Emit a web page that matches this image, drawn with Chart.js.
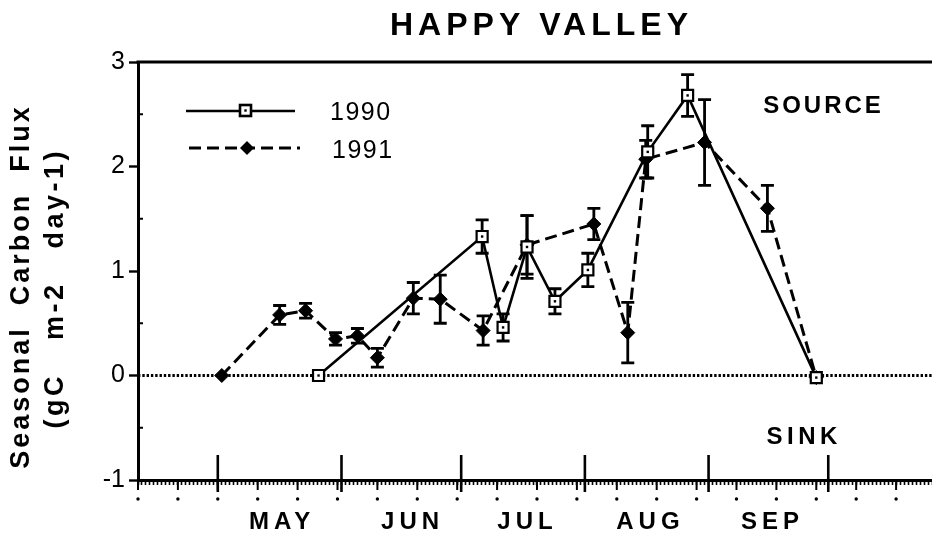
<!DOCTYPE html>
<html>
<head>
<meta charset="utf-8">
<script src="https://cdn.jsdelivr.net/npm/chart.js@4/dist/chart.umd.min.js"></script>
<style>
  html, body { margin: 0; padding: 0; background: #fff; }
  #wrap { width: 932px; height: 535px; position: relative; }
</style>
</head>
<body>
<div id="wrap"><canvas id="c" width="932" height="535"></canvas></div>
<script>
// ---- data (day of year, 1 May = day 121) ----
const day1990  = [146.25, 187.25, 192.5, 198.5, 205.5, 213.75, 228.75, 238.75, 271];
const flux1990 = [0, 1.33, 0.46, 1.23, 0.71, 1.01, 2.14, 2.68, -0.02];
const err1990  = [0, 0.16, 0.13, 0.30, 0.12, 0.16, 0.25, 0.20, 0];

const day1991  = [122, 136.5, 143, 150.5, 156, 161, 170, 176.75, 187.5, 198.5, 215.25, 223.75, 228.25, 243, 258.75, 271];
const flux1991 = [0, 0.58, 0.62, 0.35, 0.38, 0.17, 0.74, 0.73, 0.43, 1.25, 1.45, 0.41, 2.07, 2.23, 1.60, -0.02];
const err1991  = [0, 0.09, 0.07, 0.06, 0.07, 0.09, 0.15, 0.23, 0.14, 0.28, 0.15, 0.29, 0.18, 0.41, 0.22, 0];

const monthNames    = ['MAY', 'JUN', 'JUL', 'AUG', 'SEP'];
const monthLabelDay = [136.5, 169.2, 198, 228.8, 259.4];
const monthStartDay = [121, 152, 182, 213, 244, 274];
const yTicks        = [-1, 0, 1, 2, 3];
const seriesNames   = ['1990', '1991'];

const FONT = '"Liberation Sans", Arial, Helvetica, sans-serif';

function spaced(ctx, text, x, y, spacing, align) {
  ctx.save();
  ctx.textAlign = 'left';
  let sp = 0;
  if ('letterSpacing' in ctx) { ctx.letterSpacing = spacing + 'px'; sp = spacing; }
  const w = ctx.measureText(text).width - sp;
  let sx = x;
  if (align === 'center') sx = x - w / 2;
  else if (align === 'right') sx = x - w;
  ctx.fillText(text, sx, y);
  ctx.restore();
}

function pts(xs, ys) { return xs.map((x, i) => ({ x: x, y: ys[i] })); }

const decor = {
  id: 'decor',
  beforeDatasetsDraw(chart) {
    const ctx = chart.ctx, xs = chart.scales.x, ys = chart.scales.y, a = chart.chartArea;
    ctx.save();
    ctx.strokeStyle = '#000'; ctx.fillStyle = '#000';
    // zero line (dotted)
    ctx.lineWidth = 3;
    ctx.setLineDash([2.4, 1.9]);
    const y0 = ys.getPixelForValue(0);
    ctx.beginPath(); ctx.moveTo(a.left, y0); ctx.lineTo(a.right, y0); ctx.stroke();
    ctx.setLineDash([]);
    // top border
    ctx.lineWidth = 3;
    ctx.beginPath(); ctx.moveTo(a.left - 1.5, a.top); ctx.lineTo(a.right, a.top); ctx.stroke();
    // y minor ticks (inward) at half units
    ctx.lineWidth = 2;
    for (let v = -0.5; v < 3; v += 1) {
      const py = ys.getPixelForValue(v);
      ctx.beginPath(); ctx.moveTo(a.left, py); ctx.lineTo(a.left + 5, py); ctx.stroke();
    }
    // x ticks: 10-day longer ticks + dots
    for (let d = 101; d <= 300; d += 10) {
      const px = xs.getPixelForValue(d);
      ctx.lineWidth = 2;
      ctx.beginPath(); ctx.moveTo(px, a.bottom); ctx.lineTo(px, a.bottom + 10); ctx.stroke();
      ctx.beginPath(); ctx.arc(px, a.bottom + 19, 1.7, 0, Math.PI * 2); ctx.fill();
    }
    // month boundary ticks
    ctx.lineWidth = 2.6;
    monthStartDay.forEach(d => {
      const px = xs.getPixelForValue(d);
      ctx.beginPath(); ctx.moveTo(px, a.bottom - 25); ctx.lineTo(px, a.bottom + 12); ctx.stroke();
    });
    // error bars
    const bars = [[day1990, flux1990, err1990], [day1991, flux1991, err1991]];
    ctx.lineWidth = 2.8;
    bars.forEach(([dx, fy, er]) => {
      dx.forEach((d, i) => {
        if (!er[i]) return;
        const px = xs.getPixelForValue(d);
        const t = ys.getPixelForValue(fy[i] + er[i]);
        const b = ys.getPixelForValue(fy[i] - er[i]);
        ctx.beginPath();
        ctx.moveTo(px, t); ctx.lineTo(px, b);
        ctx.moveTo(px - 6.5, t); ctx.lineTo(px + 6.5, t);
        ctx.moveTo(px - 6.5, b); ctx.lineTo(px + 6.5, b);
        ctx.stroke();
      });
    });
    ctx.restore();
  },
  afterDatasetsDraw(chart) {
    const ctx = chart.ctx, xs = chart.scales.x, ys = chart.scales.y, a = chart.chartArea;
    ctx.save();
    ctx.fillStyle = '#000'; ctx.strokeStyle = '#000';
    // center dots of open squares
    day1990.forEach((d, i) => {
      const px = xs.getPixelForValue(d), py = ys.getPixelForValue(flux1990[i]);
      ctx.fillRect(px - 1.2, py - 1.2, 2.4, 2.4);
    });
    // legend
    ctx.lineWidth = 2.6;
    ctx.beginPath(); ctx.moveTo(186, 111); ctx.lineTo(295, 111); ctx.stroke();
    ctx.fillStyle = '#fff';
    ctx.fillRect(240, 105, 11, 11);
    ctx.strokeRect(240, 105, 11, 11);
    ctx.fillStyle = '#000';
    ctx.fillRect(244.3, 109.3, 2.4, 2.4);
    ctx.lineWidth = 3;
    ctx.setLineDash([12, 6]);
    ctx.beginPath(); ctx.moveTo(189, 148); ctx.lineTo(300, 148); ctx.stroke();
    ctx.setLineDash([]);
    ctx.beginPath();
    ctx.moveTo(247, 141); ctx.lineTo(254, 148); ctx.lineTo(247, 155); ctx.lineTo(240, 148); ctx.closePath(); ctx.fill();
    ctx.textBaseline = 'middle';
    ctx.font = '25px ' + FONT;
    spaced(ctx, seriesNames[0], 330, 113, 1.5, 'left');
    spaced(ctx, seriesNames[1], 332, 151, 1.5, 'left');
    // SOURCE / SINK
    ctx.font = 'bold 24px ' + FONT;
    spaced(ctx, 'SOURCE', 822, 106, 3, 'center');
    spaced(ctx, 'SINK', 802, 437, 4.5, 'center');
    // month labels
    ctx.font = 'bold 24px ' + FONT;
    monthNames.forEach((m, i) => {
      spaced(ctx, m, xs.getPixelForValue(monthLabelDay[i]), 522, 5, 'center');
    });
    // title
    ctx.font = 'bold 32px ' + FONT;
    spaced(ctx, 'HAPPY VALLEY', 539, 26, 5, 'center');
    // y axis title
    ctx.save();
    ctx.translate(22, 288);
    ctx.rotate(-Math.PI / 2);
    ctx.font = 'bold 27px ' + FONT;
    spaced(ctx, 'Seasonal  Carbon  Flux', 0, 0, 3, 'center');
    ctx.restore();
    ctx.save();
    ctx.translate(56, 290);
    ctx.rotate(-Math.PI / 2);
    ctx.font = 'bold 27px ' + FONT;
    spaced(ctx, '(gC   m-2   day-1)', 0, 0, 3.5, 'center');
    ctx.restore();
    ctx.restore();
  }
};

new Chart(document.getElementById('c'), {
  type: 'line',
  data: {
    datasets: [
      {
        label: seriesNames[0],
        data: pts(day1990, flux1990),
        borderColor: '#000', borderWidth: 2.6, tension: 0,
        pointStyle: 'rect', pointRadius: 7.8, pointBackgroundColor: '#fff',
        pointBorderColor: '#000', pointBorderWidth: 2.2, order: 1
      },
      {
        label: seriesNames[1],
        data: pts(day1991, flux1991),
        borderColor: '#000', borderWidth: 3, borderDash: [12, 6], tension: 0,
        pointStyle: 'rectRot', pointRadius: 7, pointBackgroundColor: '#000',
        pointBorderColor: '#000', pointBorderWidth: 1, order: 2
      }
    ]
  },
  options: {
    responsive: false,
    animation: false,
    devicePixelRatio: 1,
    layout: { autoPadding: false, padding: { top: 62, right: 0, bottom: 0, left: 0 } },
    plugins: { legend: { display: false }, title: { display: false }, tooltip: { enabled: false } },
    scales: {
      x: {
        type: 'linear', min: 101, max: 300,
        afterFit: s => { s.height = 55; s.paddingLeft = 0; s.paddingRight = 0; },
        border: { display: true, color: '#000', width: 3 },
        grid: { drawOnChartArea: false, drawTicks: true, tickLength: 5, tickColor: '#000', tickWidth: 1.6 },
        ticks: { display: false, stepSize: 1, maxTicksLimit: 1000 }
      },
      y: {
        type: 'linear', min: -1, max: 3,
        afterFit: s => { s.width = 138; },
        afterBuildTicks: s => { s.ticks = yTicks.map(v => ({ value: v })); },
        border: { display: true, color: '#000', width: 3 },
        grid: { drawOnChartArea: false, drawTicks: true, tickLength: 9, tickColor: '#000', tickWidth: 2.4 },
        ticks: { color: '#000', padding: 4, font: { family: FONT, size: 25 } }
      }
    }
  },
  plugins: [decor]
});
</script>
</body>
</html>
